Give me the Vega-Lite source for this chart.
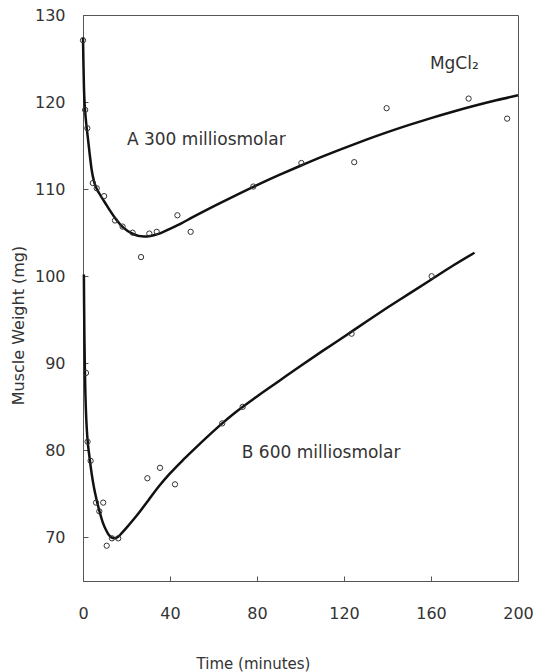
{
  "$schema": "https://vega.github.io/schema/vega-lite/v6.json",
  "width": 435,
  "height": 566,
  "autosize": {"type": "none"},
  "padding": {"left": 83, "top": 15, "right": 15, "bottom": 91},
  "background": "white",
  "config": {
    "view": {"stroke": "#555", "strokeWidth": 1},
    "font": "DejaVu Sans",
    "axis": {
      "grid": false,
      "domainColor": "#555",
      "tickColor": "#555",
      "tickWidth": 1,
      "labelColor": "#333",
      "titleColor": "#333",
      "labelFont": "DejaVu Sans",
      "titleFont": "DejaVu Sans",
      "labelFontSize": 16,
      "titleFontWeight": "normal",
      "labelFlush": false,
      "labelOverlap": false
    }
  },
  "datasets": {
    "curves": [
      {"series": "A", "t": 0, "w": 127.4},
      {"series": "A", "t": 0.2, "w": 124.5},
      {"series": "A", "t": 0.45, "w": 121.6},
      {"series": "A", "t": 0.8, "w": 119.6},
      {"series": "A", "t": 1.3, "w": 118.0},
      {"series": "A", "t": 2, "w": 116.4},
      {"series": "A", "t": 3, "w": 114.2},
      {"series": "A", "t": 4, "w": 112.2},
      {"series": "A", "t": 5, "w": 110.95},
      {"series": "A", "t": 6, "w": 110.2},
      {"series": "A", "t": 7.5, "w": 109.5},
      {"series": "A", "t": 10, "w": 108.5},
      {"series": "A", "t": 12.5, "w": 107.5},
      {"series": "A", "t": 15, "w": 106.6},
      {"series": "A", "t": 18.4, "w": 105.6},
      {"series": "A", "t": 23, "w": 104.85},
      {"series": "A", "t": 28, "w": 104.55},
      {"series": "A", "t": 31, "w": 104.62},
      {"series": "A", "t": 34, "w": 104.8},
      {"series": "A", "t": 37, "w": 105.1},
      {"series": "A", "t": 40, "w": 105.45},
      {"series": "A", "t": 45, "w": 106.05},
      {"series": "A", "t": 50, "w": 106.72},
      {"series": "A", "t": 60, "w": 108.02},
      {"series": "A", "t": 70, "w": 109.26},
      {"series": "A", "t": 80, "w": 110.46},
      {"series": "A", "t": 90, "w": 111.6},
      {"series": "A", "t": 100, "w": 112.69},
      {"series": "A", "t": 110, "w": 113.74},
      {"series": "A", "t": 120, "w": 114.72},
      {"series": "A", "t": 130, "w": 115.66},
      {"series": "A", "t": 140, "w": 116.55},
      {"series": "A", "t": 150, "w": 117.38},
      {"series": "A", "t": 160, "w": 118.16},
      {"series": "A", "t": 170, "w": 118.89},
      {"series": "A", "t": 180, "w": 119.57},
      {"series": "A", "t": 190, "w": 120.2},
      {"series": "A", "t": 200, "w": 120.78},
      {"series": "B", "t": 0.4, "w": 100.2},
      {"series": "B", "t": 0.5, "w": 97},
      {"series": "B", "t": 0.65, "w": 93},
      {"series": "B", "t": 0.85, "w": 89.5},
      {"series": "B", "t": 1.1, "w": 86.5},
      {"series": "B", "t": 1.5, "w": 83.6},
      {"series": "B", "t": 2, "w": 81.5},
      {"series": "B", "t": 3, "w": 79.2},
      {"series": "B", "t": 4, "w": 77.3},
      {"series": "B", "t": 5, "w": 75.8},
      {"series": "B", "t": 6, "w": 74.6},
      {"series": "B", "t": 7.7, "w": 72.9},
      {"series": "B", "t": 9, "w": 71.8},
      {"series": "B", "t": 10.7, "w": 70.8},
      {"series": "B", "t": 12, "w": 70.25},
      {"series": "B", "t": 13, "w": 70.0},
      {"series": "B", "t": 14.5, "w": 69.9},
      {"series": "B", "t": 16, "w": 70.05},
      {"series": "B", "t": 18, "w": 70.55},
      {"series": "B", "t": 21, "w": 71.4},
      {"series": "B", "t": 25, "w": 72.6},
      {"series": "B", "t": 30, "w": 74.25},
      {"series": "B", "t": 35, "w": 75.9},
      {"series": "B", "t": 40, "w": 77.35},
      {"series": "B", "t": 46, "w": 78.9},
      {"series": "B", "t": 52, "w": 80.35},
      {"series": "B", "t": 58, "w": 81.75},
      {"series": "B", "t": 64, "w": 83.1},
      {"series": "B", "t": 70, "w": 84.35},
      {"series": "B", "t": 80, "w": 86.2},
      {"series": "B", "t": 90, "w": 87.95},
      {"series": "B", "t": 100, "w": 89.7},
      {"series": "B", "t": 110, "w": 91.4},
      {"series": "B", "t": 120, "w": 93.05},
      {"series": "B", "t": 130, "w": 94.75},
      {"series": "B", "t": 140, "w": 96.4},
      {"series": "B", "t": 150, "w": 98.0},
      {"series": "B", "t": 160, "w": 99.6},
      {"series": "B", "t": 170, "w": 101.2},
      {"series": "B", "t": 180, "w": 102.7}
    ],
    "points": [
      {"series": "A", "t": 0, "w": 127.1},
      {"series": "A", "t": 1, "w": 119.1},
      {"series": "A", "t": 2, "w": 117.0},
      {"series": "A", "t": 4.5, "w": 110.7},
      {"series": "A", "t": 6.3, "w": 110.1},
      {"series": "A", "t": 9.7, "w": 109.2},
      {"series": "A", "t": 14.7, "w": 106.4},
      {"series": "A", "t": 18.2, "w": 105.7},
      {"series": "A", "t": 22.8, "w": 105.0},
      {"series": "A", "t": 26.7, "w": 102.2},
      {"series": "A", "t": 30.5, "w": 104.9},
      {"series": "A", "t": 33.9, "w": 105.1},
      {"series": "A", "t": 43.4, "w": 107.0},
      {"series": "A", "t": 49.5, "w": 105.1},
      {"series": "A", "t": 78.3, "w": 110.3},
      {"series": "A", "t": 100.4, "w": 113.0},
      {"series": "A", "t": 124.7, "w": 113.1},
      {"series": "A", "t": 139.6, "w": 119.3},
      {"series": "A", "t": 177.3, "w": 120.4},
      {"series": "A", "t": 195, "w": 118.1},
      {"series": "B", "t": 1.4, "w": 88.9},
      {"series": "B", "t": 2.1, "w": 81.0},
      {"series": "B", "t": 3.5, "w": 78.8},
      {"series": "B", "t": 6.0, "w": 74.0},
      {"series": "B", "t": 7.5, "w": 73.0},
      {"series": "B", "t": 9.3, "w": 74.0},
      {"series": "B", "t": 10.9, "w": 69.05},
      {"series": "B", "t": 13.3, "w": 69.9},
      {"series": "B", "t": 16.2, "w": 69.9},
      {"series": "B", "t": 29.6, "w": 76.8},
      {"series": "B", "t": 35.4, "w": 78.0},
      {"series": "B", "t": 42.3, "w": 76.1},
      {"series": "B", "t": 64.0, "w": 83.1},
      {"series": "B", "t": 73.4, "w": 85.0},
      {"series": "B", "t": 123.5, "w": 93.4},
      {"series": "B", "t": 160.3, "w": 100.0}
    ],
    "labels": [
      {"t": 20.2, "w": 115.7, "label": "A  300 milliosmolar"},
      {"t": 73, "w": 79.7, "label": "B 600 milliosmolar"},
      {"t": 159.5, "w": 124.4, "label": "MgCl₂"}
    ]
  },
  "encoding": {
    "x": {
      "field": "t",
      "type": "quantitative",
      "scale": {"domain": [0, 200], "nice": false, "zero": false},
      "axis": {
        "title": "Time (minutes)",
        "values": [0, 40, 80, 120, 160, 200],
        "tickSize": -5,
        "labelPadding": 29,
        "titleFontSize": 15,
        "titleX": 170,
        "titleY": 87,
        "titleBaseline": "alphabetic",
        "titleAnchor": "middle",
        "titleAlign": "center"
      }
    },
    "y": {
      "field": "w",
      "type": "quantitative",
      "scale": {"domain": [65, 130], "nice": false, "zero": false},
      "axis": {
        "title": "Muscle Weight (mg)",
        "values": [70, 80, 90, 100, 110, 120, 130],
        "tickSize": -5,
        "labelPadding": 23,
        "titleFontSize": 16,
        "titleX": -65,
        "titleY": 310,
        "titleBaseline": "middle",
        "titleAlign": "center",
        "titleAngle": -90
      }
    }
  },
  "layer": [
    {
      "data": {"name": "curves"},
      "mark": {"type": "line", "color": "#111", "strokeWidth": 2.5, "interpolate": "monotone"},
      "encoding": {"detail": {"field": "series"}}
    },
    {
      "data": {"name": "points"},
      "mark": {"type": "point", "shape": "circle", "filled": false, "stroke": "#333", "strokeWidth": 1, "size": 28, "opacity": 1}
    },
    {
      "data": {"name": "labels"},
      "mark": {"type": "text", "align": "left", "baseline": "middle", "fontSize": 17, "color": "#333", "font": "DejaVu Sans"},
      "encoding": {"text": {"field": "label"}}
    }
  ]
}
